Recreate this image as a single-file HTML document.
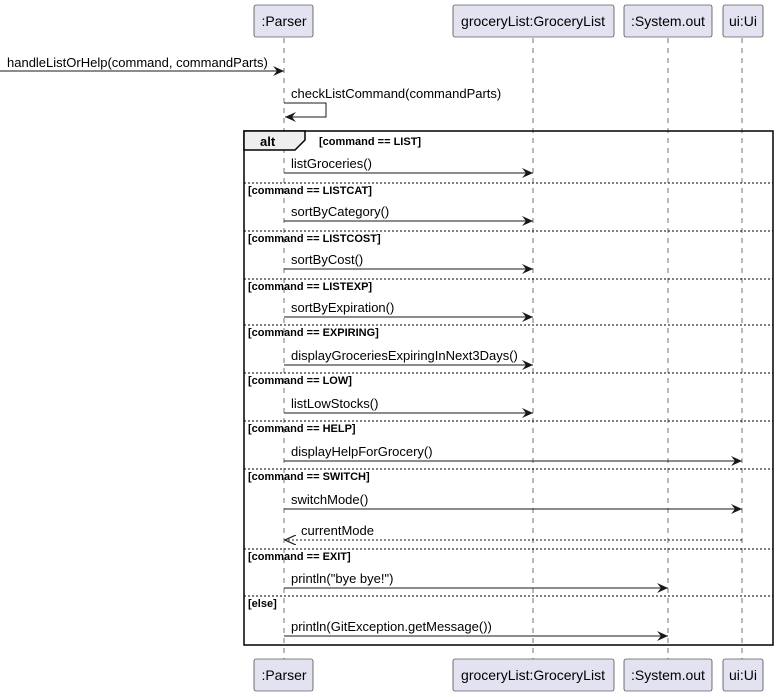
<!DOCTYPE html>
<html><head><style>body{margin:0;background:#fff}svg{display:block}</style></head><body>
<svg width="779" height="697" xmlns="http://www.w3.org/2000/svg" font-family="Liberation Sans, sans-serif">
<defs>
<marker id="a" markerWidth="12" markerHeight="10" refX="11" refY="5" orient="auto" markerUnits="userSpaceOnUse"><path d="M0,0 L11,5 L0,10 L4,5 Z" fill="#181818"/></marker>
<marker id="o" markerWidth="12" markerHeight="10" refX="11" refY="5" orient="auto" markerUnits="userSpaceOnUse"><path d="M0,0 L11,5 L0,10" fill="none" stroke="#181818" stroke-width="1.2"/></marker>
</defs>
<g stroke="#181818" stroke-dasharray="5,5" stroke-width="0.6">
<line x1="284" y1="38" x2="284" y2="659"/><line x1="533" y1="38" x2="533" y2="659"/><line x1="668" y1="38" x2="668" y2="659"/><line x1="742" y1="38" x2="742" y2="659"/>
</g>
<g fill="#E2E2F0" stroke="#181818" stroke-width="0.6">
<rect x="254" y="5" width="59" height="32" rx="2"/><rect x="453" y="5" width="161" height="32" rx="2"/><rect x="624" y="5" width="88" height="32" rx="2"/><rect x="723" y="5" width="40" height="32" rx="2"/>
<rect x="254" y="659" width="59" height="32" rx="2"/><rect x="453" y="659" width="161" height="32" rx="2"/><rect x="624" y="659" width="88" height="32" rx="2"/><rect x="723" y="659" width="40" height="32" rx="2"/>
</g>
<g font-size="14" fill="#000" text-anchor="middle">
<text x="284" y="26">:Parser</text><text x="533" y="26">groceryList:GroceryList</text><text x="668" y="26">:System.out</text><text x="743" y="26">ui:Ui</text>
<text x="284" y="680">:Parser</text><text x="533" y="680">groceryList:GroceryList</text><text x="668" y="680">:System.out</text><text x="743" y="680">ui:Ui</text>
</g>
<rect x="244" y="131" width="529" height="514" fill="none" stroke="#000" stroke-width="1.5"/>
<path d="M244,131 H305 V140 L295,150 H244 Z" fill="#EEE" stroke="#000" stroke-width="1.5"/>
<text x="260" y="146" font-size="13" font-weight="bold">alt</text>
<g stroke="#000" stroke-width="1" stroke-dasharray="2,2">
<line x1="244" y1="183" x2="773" y2="183"/><line x1="244" y1="231" x2="773" y2="231"/><line x1="244" y1="279" x2="773" y2="279"/><line x1="244" y1="325" x2="773" y2="325"/><line x1="244" y1="373" x2="773" y2="373"/><line x1="244" y1="421" x2="773" y2="421"/><line x1="244" y1="469" x2="773" y2="469"/><line x1="244" y1="549" x2="773" y2="549"/><line x1="244" y1="596" x2="773" y2="596"/>
</g>
<g font-size="11" font-weight="bold">
<text x="319" y="145">[command == LIST]</text>
<text x="248" y="194">[command == LISTCAT]</text>
<text x="248" y="242">[command == LISTCOST]</text>
<text x="248" y="290">[command == LISTEXP]</text>
<text x="248" y="336">[command == EXPIRING]</text>
<text x="248" y="384">[command == LOW]</text>
<text x="248" y="432">[command == HELP]</text>
<text x="248" y="480">[command == SWITCH]</text>
<text x="248" y="560">[command == EXIT]</text>
<text x="248" y="607">[else]</text>
</g>
<g stroke="#181818" stroke-width="1" fill="none">
<line x1="0" y1="71" x2="284" y2="71" marker-end="url(#a)"/>
<polyline points="284,103 326,103 326,117 285,117" marker-end="url(#a)"/>
<line x1="284" y1="173" x2="533" y2="173" marker-end="url(#a)"/>
<line x1="284" y1="221" x2="533" y2="221" marker-end="url(#a)"/>
<line x1="284" y1="269" x2="533" y2="269" marker-end="url(#a)"/>
<line x1="284" y1="317" x2="533" y2="317" marker-end="url(#a)"/>
<line x1="284" y1="365" x2="533" y2="365" marker-end="url(#a)"/>
<line x1="284" y1="413" x2="533" y2="413" marker-end="url(#a)"/>
<line x1="284" y1="461" x2="742" y2="461" marker-end="url(#a)"/>
<line x1="284" y1="509" x2="742" y2="509" marker-end="url(#a)"/>
<line x1="742" y1="540" x2="285" y2="540" stroke-dasharray="2,2" marker-end="url(#o)"/>
<line x1="284" y1="588" x2="668" y2="588" marker-end="url(#a)"/>
<line x1="284" y1="636" x2="668" y2="636" marker-end="url(#a)"/>
</g>
<g font-size="13" fill="#000">
<text x="7" y="67">handleListOrHelp(command, commandParts)</text>
<text x="291" y="98">checkListCommand(commandParts)</text>
<text x="291" y="168">listGroceries()</text>
<text x="291" y="216">sortByCategory()</text>
<text x="291" y="264">sortByCost()</text>
<text x="291" y="312">sortByExpiration()</text>
<text x="291" y="360">displayGroceriesExpiringInNext3Days()</text>
<text x="291" y="408">listLowStocks()</text>
<text x="291" y="456">displayHelpForGrocery()</text>
<text x="291" y="504">switchMode()</text>
<text x="301" y="535">currentMode</text>
<text x="291" y="583">println("bye bye!")</text>
<text x="291" y="631">println(GitException.getMessage())</text>
</g>
</svg>
</body></html>
